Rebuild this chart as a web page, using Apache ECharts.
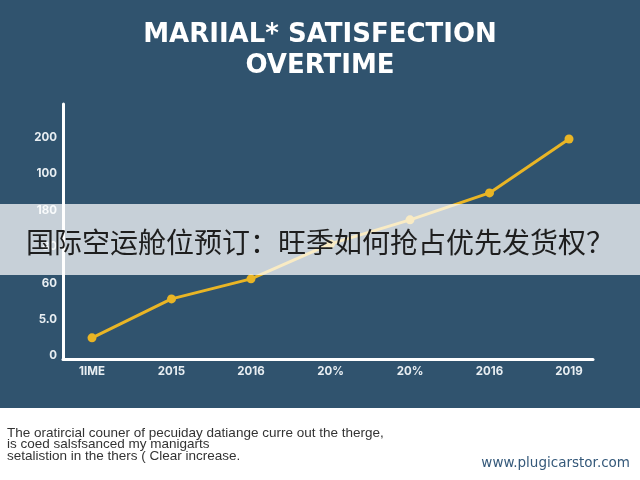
<!DOCTYPE html>
<html>
<head>
<meta charset="utf-8">
<title>Marital satisfaction over time</title>
<script src="https://cdn.jsdelivr.net/npm/echarts@6/dist/echarts.min.js"></script>
<style>
  html, body { margin: 0; padding: 0; background: #30536e; }
  #chart { width: 640px; height: 480px; }
</style>
</head>
<body>
<div id="chart"></div>
<script>
// categories along the bottom, as printed
var categories = ['1IME', '2015', '2016', '20%', '20%', '2016', '2019'];
// satisfaction, in tick steps (one step per printed y label)
var satisfaction = [0.58, 1.65, 2.2, 3.16, 3.82, 4.56, 6.04];
// y tick labels as printed, bottom to top
var yLabels = ['0', '5.0', '60', '80', '180', '100', '200', ''];

var bandText = '国际空运舱位预订：旺季如何抢占优先发货权？';
var noteLines = [
    'The oratircial couner of pecuiday datiange curre out the therge,',
    'is coed salsfsanced my manigarts',
    'setalistion in the thers ( Clear increase.'
];

var chart = echarts.init(document.getElementById('chart'));

var option = {
    backgroundColor: '#30536e',
    title: {
        text: 'MARIIAL* SATISFECTION\nOVERTIME',
        left: 'center',
        top: 15,
        textStyle: {
            color: '#ffffff',
            fontFamily: 'DejaVu Sans',
            fontWeight: 'bold',
            fontSize: 26,
            lineHeight: 31
        }
    },
    grid: [
        // frame grid: carries the axis lines
        { left: 63, right: 47, top: 104, bottom: 121 },
        // data grid: points sit from first to last category
        { left: 92, right: 71, top: 104, bottom: 121 }
    ],
    xAxis: [{
        gridIndex: 0,
        type: 'category',
        data: categories,
        axisLine: { lineStyle: { color: '#ffffff', width: 3 } },
        axisTick: { show: false },
        axisLabel: { show: false }
    }, {
        gridIndex: 1,
        type: 'category',
        data: categories,
        boundaryGap: false,
        axisLine: { show: false },
        axisTick: { show: false },
        axisLabel: {
            color: '#e8eef2',
            fontFamily: 'Inter',
            fontWeight: 'bold',
            fontSize: 11.5,
            margin: 7
        }
    }],
    yAxis: [{
        gridIndex: 0,
        type: 'value',
        min: 0,
        max: 7,
        interval: 1,
        splitLine: { show: false },
        axisLine: { show: true, lineStyle: { color: '#ffffff', width: 3 } },
        axisTick: { show: false },
        axisLabel: {
            color: '#e8eef2',
            fontFamily: 'Inter',
            fontWeight: 'bold',
            fontSize: 11.5,
            margin: 6,
            verticalAlign: 'bottom',
            lineHeight: 6,
            formatter: function (v) { return yLabels[Math.round(v)] || ''; }
        }
    }, {
        gridIndex: 1,
        type: 'value',
        min: 0,
        max: 7,
        interval: 1,
        show: false
    }],
    series: [{
        name: 'Satisfaction',
        type: 'line',
        xAxisIndex: 1,
        yAxisIndex: 1,
        data: satisfaction,
        symbol: 'circle',
        symbolSize: 9,
        lineStyle: { color: '#e9b525', width: 3 },
        itemStyle: { color: '#e9b525' },
        z: 3
    }],
    graphic: [
        // translucent banner across the middle
        {
            type: 'rect',
            left: 0,
            top: 204,
            z: 100,
            shape: { width: 640, height: 71 },
            style: { fill: 'rgba(255,255,255,0.73)' }
        },
        {
            type: 'text',
            left: 26,
            top: 228,
            z: 101,
            style: {
                text: bandText,
                fill: '#1e1e1e',
                font: '28px "Noto Sans CJK SC"'
            }
        },
        // white note panel at the bottom
        {
            type: 'rect',
            left: 0,
            top: 408,
            z: 100,
            shape: { width: 640, height: 72 },
            style: { fill: '#ffffff' }
        },
        {
            type: 'text',
            left: 7,
            top: 426,
            z: 101,
            style: {
                text: noteLines.join('\n'),
                fill: '#333333',
                font: '13.5px "Liberation Sans"',
                lineHeight: 11.5
            }
        },
        {
            type: 'text',
            right: 10,
            top: 456,
            z: 101,
            style: {
                text: 'www.plugicarstor.com',
                fill: '#35597a',
                font: '13.5px "DejaVu Sans"'
            }
        }
    ]
};

chart.setOption(option);
</script>
</body>
</html>
